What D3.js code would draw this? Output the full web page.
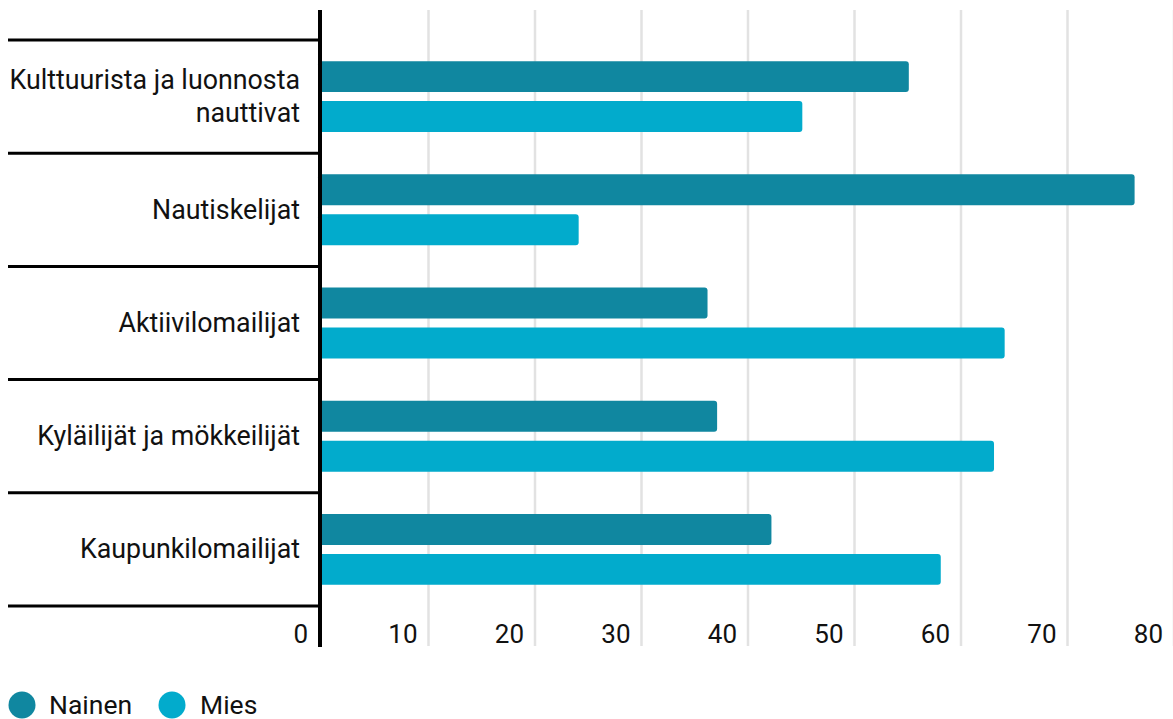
<!DOCTYPE html>
<html><head><meta charset="utf-8">
<script src="https://cdn.jsdelivr.net/npm/d3@7"></script>
<style>
html,body{margin:0;padding:0;background:#fff;}
svg{display:block;font-family:Roboto,"Noto Sans",sans-serif;}
</style></head>
<body>
<svg id="chart" width="1173" height="719"></svg>
<script>
const categories = [
  ["Kulttuurista ja luonnosta", "nauttivat"],
  ["Nautiskelijat"],
  ["Aktiivilomailijat"],
  ["Kyläilijät ja mökkeilijät"],
  ["Kaupunkilomailijat"]
];
const seriesNames = ["Nainen", "Mies"];
const nainen = [55.1, 76.3, 36.2, 37.1, 42.2];
const mies = [45.1, 24.1, 64.1, 63.1, 58.1];
const xTicks = [0, 10, 20, 30, 40, 50, 60, 70, 80];
const colors = ["#1087a0", "#02abcc"];

const svg = d3.select("#chart");
const catKeys = categories.map(c => c.join(" "));
const values = [nainen, mies];

const x = d3.scaleLinear().domain([0, 80]).range([322, 1174]);
const y = d3.scaleBand().domain(catKeys).range([40, 606]).padding(0);
const y1 = d3.scaleBand().domain(seriesNames).range([0, y.bandwidth()]).paddingInner(0.225).paddingOuter(0.53);

// gridlines
svg.append("g").selectAll("line").data(xTicks.filter(t => t > 0)).join("line")
  .attr("x1", d => x(d)).attr("x2", d => x(d))
  .attr("y1", 10).attr("y2", 646)
  .attr("stroke", "#e2e2e2").attr("stroke-width", 2.5);

// bars
catKeys.forEach((k, i) => {
  seriesNames.forEach((s, j) => {
    svg.append("rect")
      .attr("x", x(0) - 4)
      .attr("y", y(k) + y1(s))
      .attr("width", x(values[j][i]) - x(0) + 4)
      .attr("height", y1.bandwidth())
      .attr("rx", 3)
      .attr("fill", colors[j]);
  });
});

// category separator lines
const seps = catKeys.map(k => y(k)).concat([y(catKeys[catKeys.length - 1]) + y.bandwidth()]);
svg.append("g").selectAll("line").data(seps).join("line")
  .attr("x1", 8).attr("x2", 320)
  .attr("y1", d => d).attr("y2", d => d)
  .attr("stroke", "#000").attr("stroke-width", 3);

// axis line
svg.append("line").attr("x1", 320).attr("x2", 320).attr("y1", 10).attr("y2", 647)
  .attr("stroke", "#000").attr("stroke-width", 4);

// category labels
categories.forEach((lines, i) => {
  const cy = y(catKeys[i]) + y.bandwidth() / 2;
  const lh = 33;
  const t = svg.append("text").attr("text-anchor", "end").attr("font-size", 26.8).attr("fill", "#111");
  lines.forEach((ln, li) => {
    t.append("tspan").attr("x", 300)
      .attr("y", cy + (li - (lines.length - 1) / 2) * lh + 9)
      .text(ln);
  });
});

// tick labels
svg.append("g").selectAll("text").data(xTicks).join("text")
  .attr("x", d => d === 0 ? 308 : x(d) - 11)
  .attr("y", 643)
  .attr("text-anchor", "end").attr("font-size", 26).attr("fill", "#111")
  .text(d => d);

// legend
const leg = [{n: seriesNames[0], cx: 22, tx: 49}, {n: seriesNames[1], cx: 172, tx: 200}];
leg.forEach((l, i) => {
  svg.append("circle").attr("cx", l.cx).attr("cy", 705).attr("r", 13.5).attr("fill", colors[i]);
  svg.append("text").attr("x", l.tx).attr("y", 714).attr("font-size", 26.5).attr("fill", "#111").text(l.n);
});
</script>
</body></html>
